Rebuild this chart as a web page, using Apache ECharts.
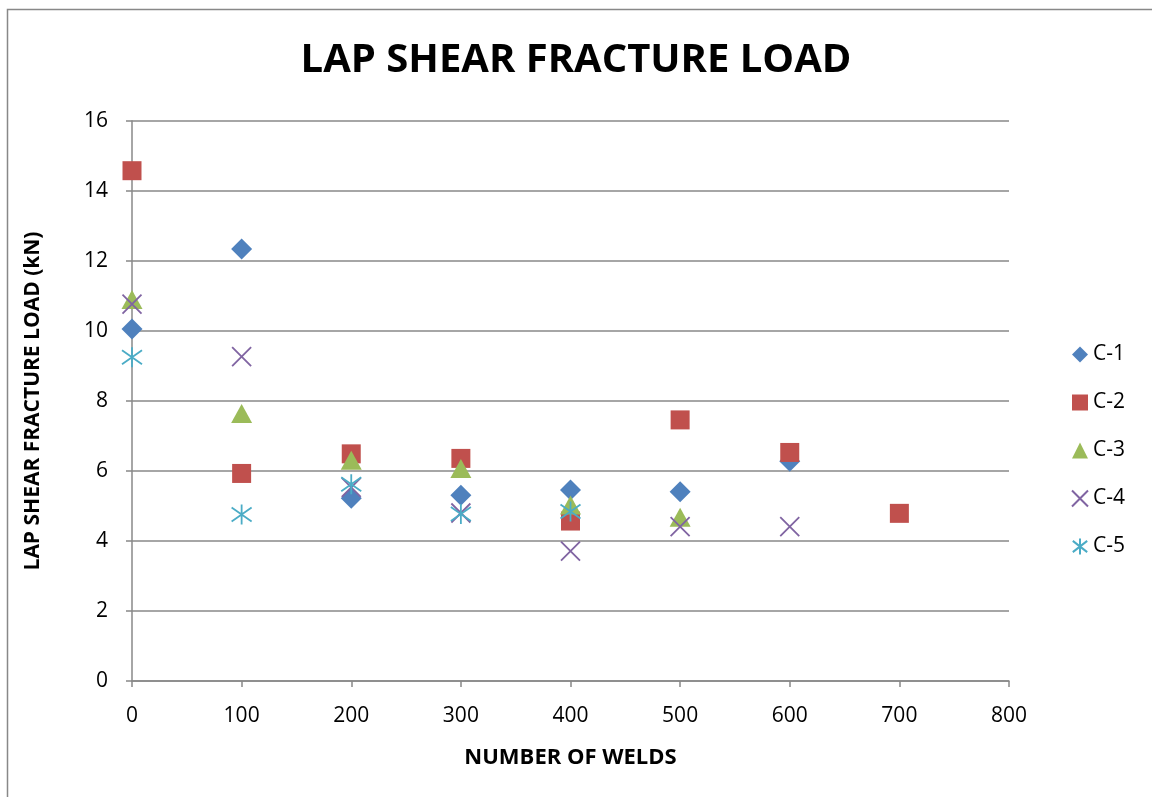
<!DOCTYPE html>
<html>
<head>
<meta charset="utf-8">
<title>Lap shear fracture load</title>
<script src="https://cdn.jsdelivr.net/npm/echarts@6/dist/echarts.min.js"></script>
<style>
  html, body { margin: 0; padding: 0; background: #fff; }
  #chart { width: 1152px; height: 797px; }
</style>
</head>
<body>
<div id="chart"></div>
<script>
// number of welds
const welds = [0, 100, 200, 300, 400, 500, 600, 700]
// fracture load (kN) per coupon, null = no point
const c1 = [10.06, 12.34, 5.22, 5.31, 5.46, 5.41, 6.28, null]
const c2 = [14.58, 5.93, 6.49, 6.36, 4.57, 7.46, 6.53, 4.79]
const c3 = [10.9, 7.64, 6.31, 6.07, 5.03, 4.68, null, null]
const c4 = [10.77, 9.27, 5.53, 4.8, 3.71, 4.41, 4.41, null]
const c5 = [9.25, 4.76, 5.62, 4.77, 4.84, null, null, null]
const names = ['C-1', 'C-2', 'C-3', 'C-4', 'C-5']

const font = '"Open Sans", "Liberation Sans", sans-serif'

// 把每组数据配成 [x, y]
function pairs(vals) {
  const out = []
  vals.forEach((v, i) => {
    if (v !== null) out.push([welds[i], v])
  })
  return out
}

const xMark = 'path://M0,0L20,20M20,0L0,20'
const starMark = 'path://M10,0L10,20M1,3L19,17M1,17L19,3'

const chart = echarts.init(document.getElementById('chart'))

const option = {
  animation: false,
  backgroundColor: '#fff',
  graphic: [{
    type: 'rect',
    shape: { x: 7.5, y: 9.5, width: 1200, height: 820 },
    style: { fill: 'none', stroke: '#888', lineWidth: 1.5 },
    silent: true
  }],
  title: {
    text: 'LAP SHEAR FRACTURE LOAD',
    left: 'center',
    top: 36,
    textStyle: { fontFamily: font, fontWeight: 'bold', fontSize: 40, color: '#000' }
  },
  grid: { left: 132, right: 143, top: 121, bottom: 116 },
  legend: {
    orient: 'vertical',
    left: 1066,
    top: 339,
    itemGap: 27,
    itemWidth: 16,
    itemHeight: 16,
    textStyle: { fontFamily: font, fontSize: 21, color: '#000' },
    data: names
  },
  xAxis: {
    type: 'value',
    min: 0,
    max: 800,
    interval: 100,
    name: 'NUMBER OF WELDS',
    nameLocation: 'middle',
    nameGap: 66,
    nameTextStyle: { fontFamily: font, fontWeight: 'bold', fontSize: 22, color: '#000' },
    axisLine: { show: true, lineStyle: { color: '#888', width: 1.5 } },
    axisTick: { show: true, length: 6, lineStyle: { color: '#888', width: 1.5 } },
    axisLabel: { fontFamily: font, fontSize: 21, color: '#000', margin: 25 },
    splitLine: { show: false }
  },
  yAxis: {
    type: 'value',
    min: 0,
    max: 16,
    interval: 2,
    name: 'LAP SHEAR FRACTURE LOAD (kN)',
    nameLocation: 'middle',
    nameRotate: 90,
    nameGap: 88,
    nameTextStyle: { fontFamily: font, fontWeight: 'bold', fontSize: 21, color: '#000' },
    axisLine: { show: true, lineStyle: { color: '#888', width: 1.5 } },
    axisTick: { show: true, length: 6, lineStyle: { color: '#888', width: 1.5 } },
    axisLabel: { fontFamily: font, fontSize: 21, color: '#000', margin: 24 },
    splitLine: { show: true, lineStyle: { color: '#888', width: 1.5 } }
  },
  series: [
    {
      name: 'C-1', type: 'scatter', data: pairs(c1),
      symbol: 'diamond', symbolSize: [21, 21],
      itemStyle: { color: '#4F81BD', opacity: 1 }
    },
    {
      name: 'C-2', type: 'scatter', data: pairs(c2),
      symbol: 'rect', symbolSize: 19,
      itemStyle: { color: '#C0504D', opacity: 1 }
    },
    {
      name: 'C-3', type: 'scatter', data: pairs(c3),
      symbol: 'triangle', symbolSize: [21, 19],
      itemStyle: { color: '#9BBB59', opacity: 1 }
    },
    {
      name: 'C-4', type: 'scatter', data: pairs(c4),
      symbol: xMark, symbolSize: 19,
      itemStyle: { color: 'rgba(0,0,0,0)', borderColor: '#8064A2', borderWidth: 1.8, opacity: 1 }
    },
    {
      name: 'C-5', type: 'scatter', data: pairs(c5),
      symbol: starMark, symbolSize: 20,
      itemStyle: { color: 'rgba(0,0,0,0)', borderColor: '#4BACC6', borderWidth: 1.8, opacity: 1 }
    }
  ]
}

chart.setOption(option)
</script>
</body>
</html>
